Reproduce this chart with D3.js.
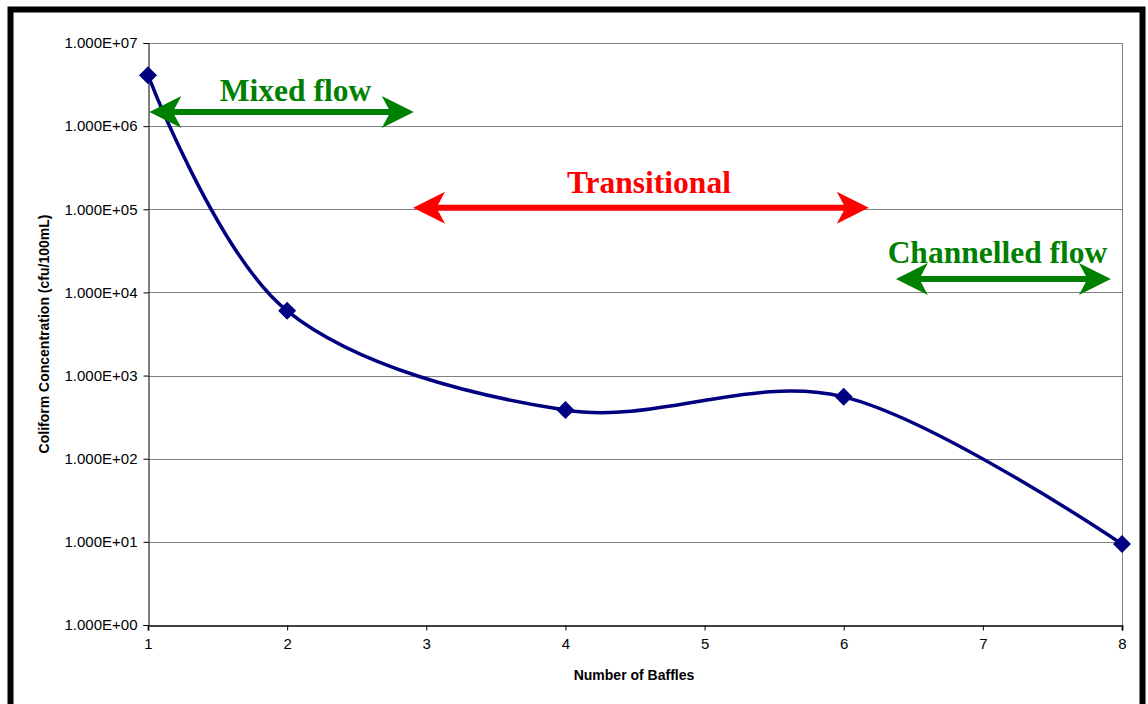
<!DOCTYPE html>
<html>
<head>
<meta charset="utf-8">
<script src="https://cdn.jsdelivr.net/npm/d3@7"></script>
<style>
  body { margin: 0; background: #fff; }
  svg { display: block; font-family: Arial, "Liberation Sans", sans-serif; }
  .tick-label { font-size: 15px; fill: #000; }
  .axis-title { font-size: 14px; font-weight: bold; fill: #000; }
  .note { font-family: "Times New Roman", "Liberation Serif", serif; font-weight: bold; font-size: 31.5px; }
</style>
</head>
<body>
<div id="chart"></div>
<script>
// data
const baffles = [1, 2, 4, 6, 8];
const coliform = [4.1e6, 6.0e3, 3.85e2, 5.55e2, 9.4];

const xTicks = [1, 2, 3, 4, 5, 6, 7, 8];
const yTicks = [1, 10, 100, 1000, 1e4, 1e5, 1e6, 1e7];

// flow regime annotations (data units)
const noteLabels = ['Mixed flow', 'Transitional', 'Channelled flow'];
const noteColors = ['#008000', '#ff0000', '#008000'];
const noteFrom = [1.01, 2.905, 6.375];
const noteTo = [2.91, 6.18, 7.92];
const noteLevel = [1.48e6, 1.04e5, 1.45e4];
const noteTextX = [2.06, 4.6, 7.105];

const width = 1148, height = 704;
const margin = {top: 43, right: 26, bottom: 79, left: 148};

const svg = d3.select('#chart')
.append('svg')
.attr('width', width)
.attr('height', height)

// outer frame (cut at the bottom like the original)
svg.append('rect')
.attr('x', 10.5)
.attr('y', 9.5)
.attr('width', 1132)
.attr('height', 740)
.attr('fill', 'none')
.attr('stroke', '#000')
.attr('stroke-width', 6)

let xScale = d3.scaleLinear()
.domain([1, 8])
.range([margin.left, width - margin.right])

let yScale = d3.scaleLog()
.domain([1, 1e7])
.range([height - margin.bottom, margin.top])

const x0 = xScale.range()[0], x1 = xScale.range()[1];
const y0 = yScale.range()[0], y1 = yScale.range()[1];

// horizontal gridlines
svg.append('g')
.selectAll('line')
.data(yTicks.slice(1))
.enter()
.append('line')
.attr('x1', x0)
.attr('x2', x1)
.attr('y1', d => Math.round(yScale(d)) + 0.5)
.attr('y2', d => Math.round(yScale(d)) + 0.5)
.attr('stroke', '#808080')
.attr('stroke-width', 1)

// right edge of plot
svg.append('line')
.attr('x1', x1 + 0.5).attr('x2', x1 + 0.5)
.attr('y1', y1).attr('y2', y0)
.attr('stroke', '#808080')

// y axis
const yAxis = svg.append('g')
.attr('transform', `translate(${x0 + 0.5},0)`)
.call(
	d3.axisLeft(yScale)
	.tickValues(yTicks)
	.tickFormat(d => '1.000E+' + String(Math.round(Math.log10(d))).padStart(2, '0'))
	.tickSize(5)
	.tickPadding(6)
)

yAxis.select('.domain').attr('stroke', '#000')
yAxis.selectAll('.tick line').attr('stroke', '#000')
yAxis.selectAll('text')
.attr('class', 'tick-label')
.attr('font-size', null)
.attr('font-family', null)

// x axis
const xAxis = svg.append('g')
.attr('transform', `translate(0,${y0 + 0.5})`)
.call(
	d3.axisBottom(xScale)
	.tickValues(xTicks)
	.tickFormat(d3.format('d'))
	.tickSize(5)
	.tickPadding(8)
)

xAxis.select('.domain').attr('stroke', '#404040').attr('stroke-width', 2)
xAxis.selectAll('.tick line').attr('stroke', '#000')
xAxis.selectAll('text')
.attr('class', 'tick-label')
.attr('font-size', null)
.attr('font-family', null)

// axis titles
svg.append('text')
.attr('class', 'axis-title')
.attr('x', (x0 + x1) / 2 - 1)
.attr('y', 680)
.attr('text-anchor', 'middle')
.text('Number of Baffles')

svg.append('text')
.attr('class', 'axis-title')
.attr('transform', `translate(49,${(y0 + y1) / 2}) rotate(-90)`)
.attr('text-anchor', 'middle')
.attr('font-size', 13.5)
.text('Coliform Concentration (cfu/100mL)')

// smoothed series
const points = baffles.map((b, i) => [xScale(b), yScale(coliform[i])]);

svg.append('path')
.datum(points)
.attr('d', d3.line().curve(d3.curveCardinal.tension(0)))
.attr('fill', 'none')
.attr('stroke', '#000080')
.attr('stroke-width', 3.5)

svg.append('g')
.selectAll('path')
.data(points)
.enter()
.append('path')
.attr('transform', d => `translate(${d[0]},${d[1]})`)
.attr('d', 'M0,-9L9,0L0,9L-9,0Z')
.attr('fill', '#000080')

// double headed arrows with labels
const headLen = 32, headHalf = 16, notch = 25, shaftHalf = 3;
const labelGap = [11, 15, 16];

const arrowPath = (xa, xb, y) => {
	return `M${xa},${y}` +
	`L${xa + headLen},${y - headHalf}` +
	`L${xa + notch},${y - shaftHalf}` +
	`L${xb - notch},${y - shaftHalf}` +
	`L${xb - headLen},${y - headHalf}` +
	`L${xb},${y}` +
	`L${xb - headLen},${y + headHalf}` +
	`L${xb - notch},${y + shaftHalf}` +
	`L${xa + notch},${y + shaftHalf}` +
	`L${xa + headLen},${y + headHalf}Z`
}

noteLabels.map((label, i) => {
	const xa = xScale(noteFrom[i]);
	const xb = xScale(noteTo[i]);
	const y = yScale(noteLevel[i]);

	svg.append('path')
	.attr('d', arrowPath(xa, xb, y))
	.attr('fill', noteColors[i])

	svg.append('text')
	.attr('class', 'note')
	.attr('x', xScale(noteTextX[i]))
	.attr('y', y - labelGap[i])
	.attr('text-anchor', 'middle')
	.attr('fill', noteColors[i])
	.text(label)
})
</script>
</body>
</html>
